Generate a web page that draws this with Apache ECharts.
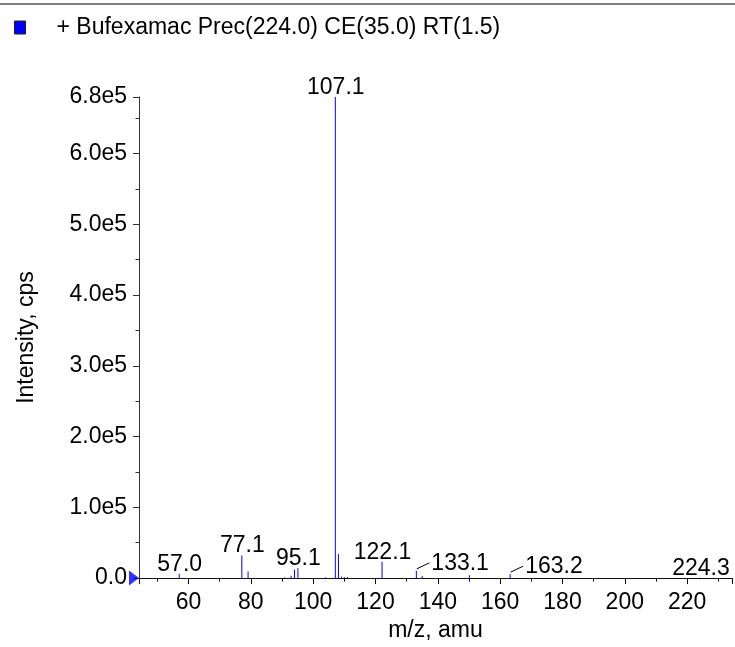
<!DOCTYPE html>
<html>
<head>
<meta charset="utf-8">
<script src="https://cdn.jsdelivr.net/npm/echarts@6/dist/echarts.min.js"></script>
<style>
html,body{margin:0;padding:0;background:#ffffff;}
#chart{width:735px;height:647px;}
</style>
</head>
<body>
<div id="chart"></div>
<script>
// ---- data ----
const seriesName = '+ Bufexamac Prec(224.0) CE(35.0) RT(1.5)';
const peakMz = [57.0, 77.1, 79.1, 90.9, 92.9, 94.0, 95.1, 103.9, 107.1, 108.1, 109.1, 110.0, 111.0, 122.1, 133.1, 135.0, 150.1, 163.2, 224.3];
const peakIntensity = [6000, 32000, 9500, 1000, 3300, 12000, 14000, 1200, 680000, 34000, 2000, 1500, 1500, 23000, 10300, 2800, 4200, 5600, 500];
const labelledMz = [57.0, 77.1, 95.1, 107.1, 122.1, 133.1, 163.2, 224.3];
const leaderLabelMz = [133.1, 163.2];
const xMin = 44.1, xMax = 234.4;
const yMin = 0, yMax = 680000, yMajorStep = 100000, yMinorStep = 50000;
const xAxisName = 'm/z, amu';
const yAxisName = 'Intensity, cps';

// ---- chart ----
const FONT_FAMILY = '"Liberation Sans", Arial, Helvetica, sans-serif';
const FS = 23;
const BLUE = '#0000ff';
const chart = echarts.init(document.getElementById('chart'), null, {renderer: 'canvas'});

const stickData = peakMz.map((m, i) => [m, peakIntensity[i]]);
const labelData = labelledMz.map(m => [m, peakIntensity[peakMz.indexOf(m)]]);

function yFmt(v) {
  if (v === 0) return '0.0';
  if (v % yMajorStep === 0 || v === yMax) return (v / 1e5).toFixed(1) + 'e5';
  return '';
}

const option = {
  animation: false,
  backgroundColor: '#ffffff',
  textStyle: {fontFamily: FONT_FAMILY},
  grid: {left: 139, right: 2, top: 97, bottom: 62, containLabel: false},
  legend: {
    left: 14, top: 16, padding: 0,
    itemWidth: 11, itemHeight: 13,
    selectedMode: false,
    data: [{name: seriesName, icon: 'rect', itemStyle: {color: BLUE, borderColor: '#222', borderWidth: 1}}],
    textStyle: {fontSize: FS, color: '#000', fontFamily: FONT_FAMILY, padding: [0, 0, 0, 26]}
  },
  graphic: [{
    type: 'line', silent: true,
    shape: {x1: 0, y1: 4, x2: 735, y2: 4},
    style: {stroke: '#555', lineWidth: 1.5}
  }],
  xAxis: [{
    type: 'value', min: xMin, max: xMax, splitNumber: 10,
    axisLine: {show: true, onZero: false, lineStyle: {color: '#111', width: 1}},
    axisTick: {show: true, inside: false, length: 6, lineStyle: {color: '#111'}},
    axisLabel: {
      show: true, margin: 13, fontSize: FS, color: '#000', fontFamily: FONT_FAMILY,
      formatter: v => (Math.abs(v % 20) < 1e-9 ? String(Math.round(v)) : '')
    },
    splitLine: {show: false},
    name: xAxisName, nameLocation: 'middle', nameGap: 39,
    nameTextStyle: {fontSize: FS, color: '#000', fontFamily: FONT_FAMILY}
  }, {
    type: 'value', min: xMin, max: xMax, splitNumber: 19, position: 'bottom', offset: 0,
    axisLine: {show: false},
    axisTick: {show: true, inside: false, length: 3.5, lineStyle: {color: '#111'}},
    axisLabel: {show: false},
    splitLine: {show: false}
  }],
  yAxis: [{
    type: 'value', min: yMin, max: yMax, interval: yMajorStep, position: 'left',
    axisLine: {show: true, onZero: false, lineStyle: {color: '#333', width: 1}},
    axisTick: {show: true, inside: false, length: 6, lineStyle: {color: '#333'}},
    axisLabel: {show: true, margin: 12, fontSize: FS, color: '#000', fontFamily: FONT_FAMILY, formatter: yFmt},
    splitLine: {show: false},
    name: yAxisName, nameLocation: 'middle', nameGap: 101,
    nameTextStyle: {fontSize: FS, color: '#000', fontFamily: FONT_FAMILY}
  }, {
    type: 'value', min: yMin, max: yMax, interval: yMinorStep, position: 'left', offset: 0,
    axisLine: {show: false},
    axisTick: {show: true, inside: false, length: 3.5, lineStyle: {color: '#333'}},
    axisLabel: {show: false},
    splitLine: {show: false}
  }],
  series: [{
    name: seriesName,
    type: 'custom',
    xAxisIndex: 0, yAxisIndex: 0,
    itemStyle: {color: BLUE},
    data: stickData,
    encode: {x: 0, y: 1},
    renderItem: function (params, api) {
      const top = api.coord([api.value(0), api.value(1)]);
      const base = api.coord([api.value(0), 0]);
      return {
        type: 'line',
        shape: {x1: top[0], y1: base[1], x2: top[0], y2: top[1]},
        style: {stroke: BLUE, lineWidth: 1}
      };
    }
  }, {
    type: 'custom',
    xAxisIndex: 0, yAxisIndex: 0,
    silent: true,
    data: labelData,
    encode: {x: 0, y: 1},
    renderItem: function (params, api) {
      const m = api.value(0);
      const p = api.coord([m, api.value(1)]);
      const txt = m.toFixed(1);
      const font = FS + 'px ' + FONT_FAMILY;
      if (leaderLabelMz.indexOf(m) >= 0) {
        return {
          type: 'group',
          children: [{
            type: 'line',
            shape: {x1: p[0] + 0.5, y1: p[1] - 2, x2: p[0] + 13, y2: p[1] - 8},
            style: {stroke: '#000', lineWidth: 1}
          }, {
            type: 'text',
            style: {
              x: p[0] + 15, y: p[1] + 4, text: txt, font: font, fill: '#000',
              align: 'left', verticalAlign: 'bottom', textAlign: 'left', textVerticalAlign: 'bottom'
            }
          }]
        };
      }
      return {
        type: 'text',
        style: {
          x: p[0] + 0.5, y: p[1] + 2, text: txt, font: font, fill: '#000',
          align: 'center', verticalAlign: 'bottom', textAlign: 'center', textVerticalAlign: 'bottom'
        }
      };
    }
  }, {
    type: 'scatter',
    xAxisIndex: 0, yAxisIndex: 0,
    silent: true,
    clip: false,
    symbol: 'triangle',
    symbolRotate: -90,
    symbolSize: [15, 10],
    symbolOffset: [-5, 0],
    itemStyle: {color: BLUE},
    data: [[xMin, yMin]]
  }]
};
chart.setOption(option);
</script>
</body>
</html>
